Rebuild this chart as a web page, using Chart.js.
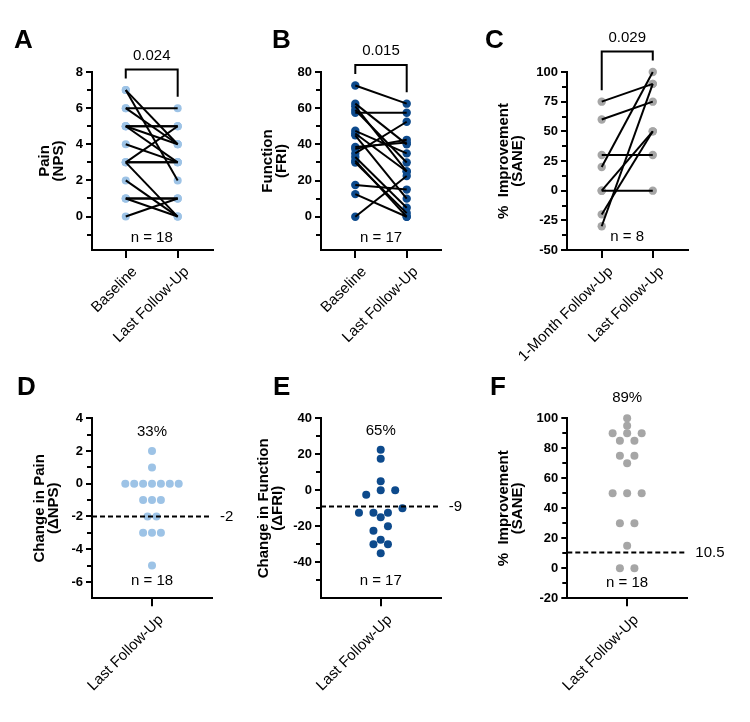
<!DOCTYPE html>
<html>
<head>
<meta charset="utf-8">
<script src="https://cdn.jsdelivr.net/npm/chart.js@4/dist/chart.umd.min.js"></script>
<style>
  body { margin: 0; background: #fff; }
  #fig { position: relative; width: 750px; height: 722px; background: #fff; }
  canvas { position: absolute; }
</style>
</head>
<body>
<div id="fig">
  <canvas id="cA" width="250" height="370" style="left:0;top:0"></canvas>
  <canvas id="cB" width="220" height="370" style="left:250px;top:0"></canvas>
  <canvas id="cC" width="280" height="370" style="left:470px;top:0"></canvas>
  <canvas id="cD" width="250" height="362" style="left:0;top:360px"></canvas>
  <canvas id="cE" width="220" height="362" style="left:250px;top:360px"></canvas>
  <canvas id="cF" width="280" height="362" style="left:470px;top:360px"></canvas>
</div>
<script>
// categories
const pairedCats = ["Baseline", "Last Follow-Up"];
const saneCats = ["1-Month Follow-Up", "Last Follow-Up"];
const lastCats = ["Last Follow-Up"];

// paired values (one entry per patient)
const painBaseline = [7, 7, 6, 6, 5, 5, 5, 4, 3, 3, 3, 2, 1, 1, 1, 0, 5, 3];
const painLast     = [4, 2, 6, 4, 5, 4, 3, 3, 5, 3, 0, 0, 1, 0, 1, 1, 5, 3];
const friBaseline  = [72.5, 62.5, 61, 59, 57.5, 47.5, 46, 45, 38.5, 37.5, 35, 33, 31, 30, 17.5, 12.5, 0];
const friLast      = [62.5, 40, 25, 30, 57.5, 35, 25, 10, 41, 42.5, 52.5, 5, 0, 2, 15, 0, 22.5];
const saneMonth    = [75, 60, 30, 20, 0, 0, -20, -30];
const saneLast     = [90, 75, 30, 100, 0, 50, 50, 90];
const pValues = ["0.024", "0.015", "0.029"];

// change scores
const deltaNps = [2, 1, 0, 0, 0, 0, 0, 0, 0, -1, -1, -1, -2, -2, -3, -3, -3, -5];
const deltaFri = [22.5, 17.5, 5, 0, 0, -2.5, -10, -12.5, -12.5, -12.5, -15, -20, -22.5, -27.5, -30, -30, -35];
const saneImprove = [100, 95, 90, 90, 90, 85, 85, 75, 75, 70, 50, 50, 50, 30, 30, 15, 0, 0];
const medians = [-2, -9, 10.5];
const percents = ["33%", "65%", "89%"];
const nLabels = ["n = 18", "n = 17", "n = 8", "n = 18", "n = 17", "n = 18"];

// y ticks
const majorA = [0, 2, 4, 6, 8], minorA = [-1, 1, 3, 5, 7];
const majorB = [0, 20, 40, 60, 80], minorB = [-10, 10, 30, 50, 70];
const majorC = [-50, -25, 0, 25, 50, 75, 100], minorC = [-37.5, -12.5, 12.5, 37.5, 62.5, 87.5];
const majorD = [-6, -4, -2, 0, 2, 4], minorD = [-5, -3, -1, 1, 3];
const majorE = [-40, -20, 0, 20, 40], minorE = [-50, -30, -10, 10, 30];
const majorF = [-20, 0, 20, 40, 60, 80, 100], minorF = [-10, 10, 30, 50, 70, 90];

const lightBlue = "#9dc3e6";
const darkBlue = "#0d4a8c";
const grey = "#a6a6a6";

Chart.defaults.font.family = '"Liberation Sans", Arial, sans-serif';
Chart.defaults.color = "#000";

const FONT = '"Liberation Sans", Arial, sans-serif';

// draws panel letter, minor ticks, bracket and the small texts
const decor = {
  id: "decor",
  afterDraw(chart, args, o) {
    const { ctx, chartArea: a, scales: { x, y } } = chart;
    ctx.save();
    ctx.fillStyle = "#000";
    ctx.strokeStyle = "#000";
    ctx.lineWidth = 2;

    o.minor.forEach(v => {
      const py = Math.round(y.getPixelForValue(v));
      ctx.beginPath();
      ctx.moveTo(a.left - 5, py);
      ctx.lineTo(a.left, py);
      ctx.stroke();
    });

    const mx = x.getPixelForValue(o.mid);
    ctx.font = "15px " + FONT;
    ctx.textAlign = "center";
    ctx.textBaseline = "middle";
    ctx.fillText(o.nText, mx, a.bottom - o.nOff);

    if (o.bracket) {
      const b = o.bracket;
      const x0 = x.getPixelForValue(0), x1 = x.getPixelForValue(1);
      const ly = y.getPixelForValue(Math.max(...b.left)) - 11.5;
      const ry = y.getPixelForValue(Math.max(...b.right)) - 11.5;
      const top = Math.min(ly, ry) - 9;
      ctx.beginPath();
      ctx.moveTo(x0, ly);
      ctx.lineTo(x0, top);
      ctx.lineTo(x1, top);
      ctx.lineTo(x1, ry);
      ctx.stroke();
      ctx.fillText(b.label, (x0 + x1) / 2, top - 14);
    }

    if (o.pct) ctx.fillText(o.pct, mx, a.top + o.pctOff);

    if (o.median !== undefined) {
      ctx.textAlign = "left";
      ctx.fillText(String(o.median), a.right + 8, y.getPixelForValue(o.median));
    }

    ctx.font = "bold 26px " + FONT;
    ctx.textAlign = "left";
    ctx.textBaseline = "alphabetic";
    ctx.fillText(o.letter, o.letterX, o.letterY);
    ctx.restore();
  }
};

function pairedSets(base, last, color, r) {
  const lines = base.map((b, i) => ({
    data: [{ x: 0, y: b }, { x: 1, y: last[i] }],
    showLine: true, borderColor: "#000", borderWidth: 2,
    pointRadius: 0, order: 0, clip: false
  }));
  const dots = {
    data: base.map(b => ({ x: 0, y: b })).concat(last.map(l => ({ x: 1, y: l }))),
    pointRadius: r, pointBackgroundColor: color, pointBorderWidth: 0,
    order: 1, clip: false
  };
  return [dots].concat(lines);
}

// group close values in rows and spread each row around the centre
function swarm(values, bin) {
  const groups = {};
  values.forEach(v => {
    const k = Math.round(v / bin);
    (groups[k] = groups[k] || []).push(v);
  });
  const pts = [];
  Object.values(groups).forEach(g => {
    g.sort((p, q) => p - q);
    g.forEach((v, i) => pts.push({ x: i - (g.length - 1) / 2, y: v }));
  });
  return pts;
}

function swarmSets(values, bin, median, color, xMin, xMax) {
  return [
    { data: swarm(values, bin), pointRadius: 4, pointBackgroundColor: color,
      pointBorderWidth: 0, order: 1, clip: false },
    { data: [{ x: xMin, y: median }, { x: xMax, y: median }], showLine: true,
      borderColor: "#000", borderWidth: 2, borderDash: [5, 3], pointRadius: 0,
      order: 0, clip: false }
  ];
}

function makeChart(id, cfg) {
  const yTicks = cfg.major.concat(cfg.minor).sort((p, q) => p - q);
  return new Chart(document.getElementById(id), {
    type: "scatter",
    data: { datasets: cfg.datasets },
    options: {
      responsive: false,
      animation: false,
      devicePixelRatio: 1,
      events: [],
      layout: { padding: { left: 0, top: cfg.top, right: cfg.right, bottom: 0 } },
      plugins: { legend: { display: false }, tooltip: { enabled: false }, decor: cfg.decor },
      scales: {
        x: {
          type: "linear",
          min: cfg.xMin,
          max: cfg.xMax,
          afterBuildTicks: s => { s.ticks = cfg.cats.map((c, i) => ({ value: i })); },
          afterFit: s => { s.height = cfg.xH; },
          border: { color: "#000", width: 2 },
          grid: { drawOnChartArea: false, color: "#000", lineWidth: 2, tickLength: 8 },
          ticks: {
            autoSkip: false, minRotation: 45, maxRotation: 45, padding: 5, labelOffset: 9,
            color: "#000", font: { size: 15 },
            callback: v => cfg.cats[v]
          }
        },
        y: {
          type: "linear",
          min: cfg.yMin,
          max: cfg.yMax,
          afterBuildTicks: s => { s.ticks = yTicks.map(v => ({ value: v })); },
          afterFit: s => { s.width = cfg.yW; },
          border: { color: "#000", width: 2 },
          grid: {
            drawOnChartArea: false, lineWidth: 2, tickLength: 6,
            color: c => (c.tick && cfg.minor.includes(c.tick.value)) ? "rgba(0,0,0,0)" : "#000"
          },
          ticks: {
            padding: 3, color: "#000", font: { size: 13, weight: "bold" },
            callback: v => cfg.minor.includes(v) ? "" : String(v)
          },
          title: {
            display: true, text: cfg.yTitle, color: "#000",
            font: { size: 15, weight: "bold", lineHeight: "14px" },
            padding: { top: cfg.titlePad, bottom: 0 }
          }
        }
      }
    },
    plugins: [decor]
  });
}

// A - pain
makeChart("cA", {
  datasets: pairedSets(painBaseline, painLast, lightBlue, 4),
  cats: pairedCats, xMin: -0.65, xMax: 1.68, yMin: -1.85, yMax: 8,
  major: majorA, minor: minorA, yTitle: ["Pain", "(NPS)"], titlePad: 37.5,
  yW: 92, top: 72, right: 37, xH: 120,
  decor: { letter: "A", letterX: 14, letterY: 48, minor: minorA, mid: 0.5,
    nText: nLabels[0], nOff: 12,
    bracket: { left: painBaseline, right: painLast, label: pValues[0] } }
});

// B - function
makeChart("cB", {
  datasets: pairedSets(friBaseline, friLast, darkBlue, 4.2),
  cats: pairedCats, xMin: -0.667, xMax: 1.667, yMin: -18.4, yMax: 80,
  major: majorB, minor: minorB, yTitle: ["Function", "(FRI)"], titlePad: 10.5,
  yW: 71, top: 72, right: 29, xH: 120,
  decor: { letter: "B", letterX: 22, letterY: 48, minor: minorB, mid: 0.5,
    nText: nLabels[1], nOff: 12,
    bracket: { left: friBaseline, right: friLast, label: pValues[1] } }
});

// C - SANE paired
makeChart("cC", {
  datasets: pairedSets(saneMonth, saneLast, grey, 4.2),
  cats: saneCats, xMin: -0.68, xMax: 1.69, yMin: -50, yMax: 100,
  major: majorC, minor: minorC, yTitle: ["%  Improvement", "(SANE)"], titlePad: 27,
  yW: 97, top: 72, right: 62, xH: 120,
  decor: { letter: "C", letterX: 15, letterY: 48, minor: minorC, mid: 0.5,
    nText: nLabels[2], nOff: 13,
    bracket: { left: saneMonth, right: saneLast, label: pValues[2] } }
});

// D - change in pain
makeChart("cD", {
  datasets: swarmSets(deltaNps, 1, medians[0], lightBlue, -6.74, 6.74),
  cats: lastCats, xMin: -6.74, xMax: 6.74, yMin: -7, yMax: 4,
  major: majorD, minor: minorD, yTitle: ["Change in Pain", "(\u0394NPS)"], titlePad: 33,
  yW: 92, top: 58.3, right: 38, xH: 123.7,
  decor: { letter: "D", letterX: 17, letterY: 35, minor: minorD, mid: 0,
    nText: nLabels[3], nOff: 17.6, pct: percents[0], pctOff: 13.4, median: medians[0] }
});

// E - change in function
makeChart("cE", {
  datasets: swarmSets(deltaFri, 5, medians[1], darkBlue, -4.12, 4.14),
  cats: lastCats, xMin: -4.12, xMax: 4.14, yMin: -60, yMax: 40,
  major: majorE, minor: minorE, yTitle: ["Change in Function", "(\u0394FRI)"], titlePad: 7,
  yW: 71, top: 58.3, right: 29.3, xH: 123.7,
  decor: { letter: "E", letterX: 23, letterY: 35, minor: minorE, mid: 0,
    nText: nLabels[4], nOff: 17.6, pct: percents[1], pctOff: 12.7, median: medians[1] }
});

// F - SANE at last follow-up
makeChart("cF", {
  datasets: swarmSets(saneImprove, 5, medians[2], grey, -4.12, 4.14),
  cats: lastCats, xMin: -4.12, xMax: 4.14, yMin: -20, yMax: 100,
  major: majorF, minor: minorF, yTitle: ["%  Improvement", "(SANE)"], titlePad: 27,
  yW: 97.3, top: 58.3, right: 62.7, xH: 123.7,
  decor: { letter: "F", letterX: 20, letterY: 35, minor: minorF, mid: 0,
    nText: nLabels[5], nOff: 15.3, pct: percents[2], pctOff: -20.6, median: medians[2] }
});
</script>
</body>
</html>
